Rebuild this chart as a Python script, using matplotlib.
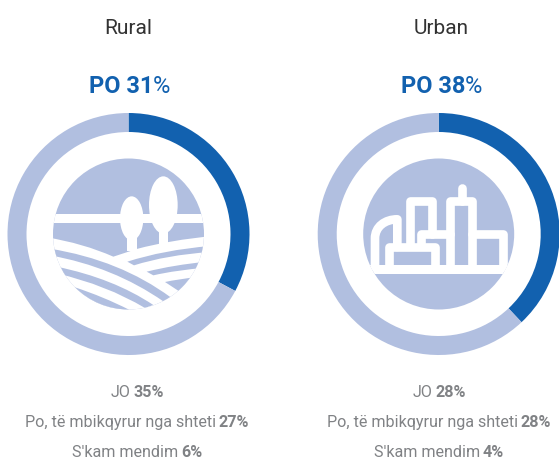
import matplotlib
matplotlib.use("Agg")
import matplotlib.pyplot as plt
from matplotlib.path import Path
from matplotlib.patches import Circle, PathPatch, Ellipse, Rectangle

groups = ["Rural", "Urban"]
po_labels = ["PO 31", "PO 38"]
ring_yes = [32.8, 38]
ring_rest = [67.2, 62]
jo = ["35%", "28%"]
supervised = ["27%", "28%"]
no_opinion = ["6%", "4%"]

DARK = "#1261AF"
LIGHT = "#B1BFE0"
GREY = "#808285"
INK = "#333333"
FONT = ["Roboto", "DejaVu Sans"]

fig = plt.figure(figsize=(5.59, 4.59), dpi=100)
ax = fig.add_axes([0, 0, 1, 1])

centers = [(128.5, 234.0), (438.7, 234.0)]
R, W, ICON_R = 121, 19, 75.5

for (cx, cy), y, r in zip(centers, ring_yes, ring_rest):
    ax.pie([y, r], colors=[DARK, LIGHT], center=(cx, cy), radius=R, startangle=-90,
           counterclock=True, wedgeprops=dict(width=W, linewidth=0))
ax.set_xlim(0, 559)
ax.set_ylim(459, 0)
ax.set_aspect("auto")
ax.axis("off")

def pt(z, ox):
    return (ox + z[0] / 3, 100 + z[1] / 3)

CODES = {"M": [Path.MOVETO], "L": [Path.LINETO], "Q": [Path.CURVE3] * 2, "C": [Path.CURVE4] * 3}

def build(cmds, ox):
    verts, codes = [], []
    for c, *ps in cmds:
        for p in ps:
            verts.append(pt(p, ox))
        codes += CODES[c]
    return verts, codes

def shape(cmds, ox, color, clip, z=5):
    verts, codes = build(cmds, ox)
    verts.append(verts[0]); codes.append(Path.CLOSEPOLY)
    p = PathPatch(Path(verts, codes), fc=color, ec="none", lw=0, zorder=z)
    ax.add_patch(p); p.set_clip_path(clip)

def stroke(cmds, ox, clip, lw=26/3):
    verts, codes = build(cmds, ox)
    p = PathPatch(Path(verts, codes), fc="none", ec="white", lw=lw * 0.72, zorder=6,
                  capstyle="round", joinstyle="round")
    ax.add_patch(p); p.set_clip_path(clip)

def base_circle(cx, cy):
    c = Circle((cx, cy), ICON_R, fc=LIGHT, ec="none", zorder=4)
    ax.add_patch(c)
    return c

# Rural icon
ox = 0
clip = base_circle(*centers[0])
ax.add_patch(r := Rectangle(pt((100, 342), ox), 240, 26 / 3, fc="white", ec="none", zorder=5)); r.set_clip_path(clip)
shape([("M", (140, 412)), ("Q", (250, 430), (340, 470)), ("L", (410, 447)),
       ("Q", (510, 420), (640, 408)), ("L", (640, 650)), ("L", (140, 650))], ox, "white", clip)
for (ex, ey, ew, eh) in [(395, 355, 70, 132), (490, 315, 86, 172)]:
    ax.add_patch(Ellipse(pt((ex, ey), ox), ew / 3, eh / 3, fc="white", ec="none", zorder=6))
for (x0, x1, y0, y1) in [(382, 410, 400, 452), (477, 505, 380, 440)]:
    ax.add_patch(Rectangle(pt((x0, y0), ox), (x1 - x0) / 3, (y1 - y0) / 3, fc="white", ec="none", zorder=6))
stripes = [
    [("M", (150, 446)), ("Q", (360, 480), (512, 592)), ("L", (490, 604)), ("Q", (340, 500), (150, 466))],
    [("M", (170, 500)), ("Q", (340, 535), (460, 615)), ("L", (435, 624)), ("Q", (320, 555), (170, 520))],
    [("M", (225, 562)), ("Q", (310, 590), (387, 629)), ("L", (300, 660)), ("L", (200, 600))],
    [("M", (382, 485)), ("Q", (490, 450), (630, 438)), ("L", (630, 456)), ("Q", (500, 465), (402, 496))],
    [("M", (440, 515)), ("Q", (520, 495), (620, 485)), ("L", (620, 503)), ("Q", (530, 510), (460, 526))],
    [("M", (495, 546)), ("Q", (530, 538), (600, 530)), ("L", (600, 600)), ("L", (536, 573))],
]
for s in stripes:
    shape(s, ox, LIGHT, clip, z=7)

# Urban icon
ox = 310
clip = base_circle(*centers[1])
ax.add_patch(r := Rectangle(pt((140, 495), ox), 500 / 3, 27 / 3, fc="white", ec="none", zorder=6)); r.set_clip_path(clip)
paths = [
    [("M", (299, 435)), ("L", (299, 303)), ("L", (367, 303)), ("L", (367, 403))],
    [("M", (334, 435)), ("L", (334, 403)), ("L", (421, 403))],
    [("M", (421, 500)), ("L", (421, 303)), ("L", (487, 303)), ("L", (487, 500))],
    [("M", (455, 303)), ("L", (455, 263))],
    [("M", (487, 403)), ("L", (580, 403)), ("L", (580, 500))],
    [("M", (238, 500)), ("L", (238, 441)), ("L", (374, 441)), ("L", (374, 500))],
    [("M", (195, 500)), ("L", (195, 415)), ("C", (195, 380), (225, 358), (262, 358)), ("L", (262, 441))],
]
for p_ in paths:
    stroke(p_, ox, clip)

# Text
def mixed(x, base, first, second, size, c1, c2, first_bold, second_bold, gap):
    kw = dict(family=FONT, fontsize=size, va="baseline", ha="left", zorder=10)
    t1 = ax.text(0, base, first, color=c1, fontweight="bold" if first_bold else "normal", **kw)
    t2 = ax.text(0, base, second, color=c2, fontweight="bold" if second_bold else "normal", **kw)
    rend = fig.canvas.get_renderer()
    w1 = t1.get_window_extent(rend).width
    w2 = t2.get_window_extent(rend).width
    left = x - (w1 + gap + w2) / 2
    t1.set_x(left)
    t2.set_x(left + w1 + gap)

title_x = [128.7, 441.5]
po_x = [129.7, 441.7]
label_x = [137, 439]
for i, g in enumerate(groups):
    ax.text(title_x[i], 34, g, family=FONT, fontsize=15, color=INK, ha="center", va="baseline")
    mixed(po_x[i], 93, po_labels[i], "%", 17, DARK, DARK, True, False, -0.5)
    mixed(label_x[i], 397, "JO", jo[i], 11.6, GREY, GREY, False, True, 3)
    mixed(label_x[i], 427, "Po, të mbikqyrur nga shteti", supervised[i], 11.6, GREY, GREY, False, True, 3)
    mixed(label_x[i], 457, "S'kam mendim", no_opinion[i], 11.6, GREY, GREY, False, True, 3)

fig.savefig("out.png", dpi=100)
